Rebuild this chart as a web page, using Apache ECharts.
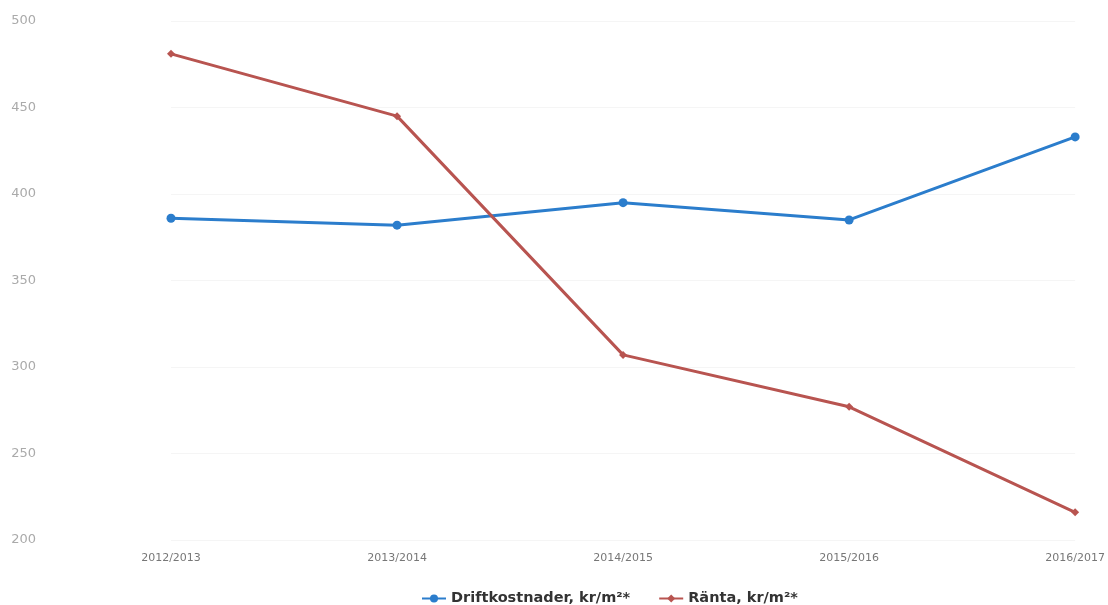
<!DOCTYPE html>
<html><head><meta charset="utf-8">
<script src="https://cdn.jsdelivr.net/npm/echarts@6/dist/echarts.min.js"></script>
<style>html,body{margin:0;padding:0;background:#fff}#c{width:1108px;height:605px}</style>
</head><body><div id="c"></div>
<script>
const categories = ['2012/2013','2013/2014','2014/2015','2015/2016','2016/2017'];
const driftkostnader = [386, 382, 395, 385, 433];
const ranta = [481, 445, 307, 277, 216];
const seriesNames = ['Driftkostnader, kr/m²*', 'Ränta, kr/m²*'];

const chart = echarts.init(document.getElementById('c'));
chart.setOption({
  animation: false,
  backgroundColor: '#fff',
  grid: { left: 171, right: 32, top: 21, bottom: 65 },
  legend: {
    top: 586, left: 416, itemGap: 28, itemWidth: 24, itemHeight: 10,
    textStyle: { fontFamily: 'DejaVu Sans', fontWeight: 'bold', fontSize: 14.5, color: '#333' },
    data: seriesNames
  },
  xAxis: {
    type: 'category', data: categories, boundaryGap: false,
    axisLine: { show: false }, axisTick: { show: false },
    axisLabel: { fontFamily: 'DejaVu Sans', fontSize: 11, color: '#777', margin: 13 }
  },
  yAxis: {
    type: 'value', min: 200, max: 500, interval: 50,
    axisLine: { show: false }, axisTick: { show: false },
    splitLine: { lineStyle: { color: '#f5f5f5' } },
    axisLabel: { fontFamily: 'DejaVu Sans', fontSize: 13, color: '#aaa', margin: 135 }
  },
  series: [
    { name: seriesNames[0], type: 'line', data: driftkostnader,
      symbol: 'circle', symbolSize: 9,
      lineStyle: { width: 3, color: '#2b7dcc' }, itemStyle: { color: '#2b7dcc' } },
    { name: seriesNames[1], type: 'line', data: ranta,
      symbol: 'diamond', symbolSize: 8,
      lineStyle: { width: 3, color: '#b85450' }, itemStyle: { color: '#b85450' } }
  ]
});
</script></body></html>
